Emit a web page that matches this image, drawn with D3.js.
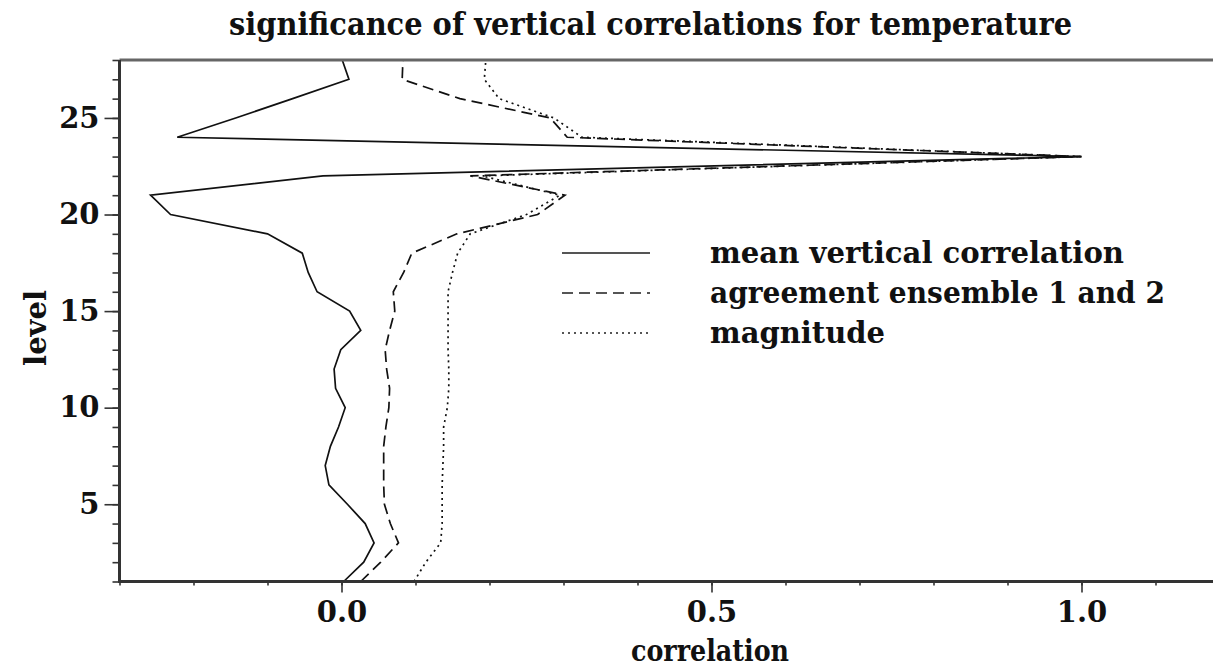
<!DOCTYPE html>
<html>
<head>
<meta charset="utf-8">
<script src="https://cdn.jsdelivr.net/npm/d3@7"></script>
<style>
  html, body { margin: 0; padding: 0; background: #fff; }
  svg { display: block; }
  text { font-family: "DejaVu Serif", "Liberation Serif", serif; font-weight: bold; fill: #111; }
</style>
</head>
<body>
<svg id="chart" width="1213" height="668"></svg>
<script>
// ---- data ----
const levels = [1,2,3,4,5,6,7,8,9,10,11,12,13,14,15,16,17,18,19,20,21,22,23,24,25,26,27,28];
const meanCorr = [0.003,0.030,0.044,0.032,0.008,-0.017,-0.022,-0.015,-0.004,0.005,-0.008,-0.010,-0.001,0.026,0.011,-0.033,-0.045,-0.053,-0.100,-0.231,-0.258,-0.025,1.0,-0.222,-0.143,-0.066,0.010,0.001];
const agreement = [0.026,0.053,0.077,0.066,0.058,0.057,0.057,0.057,0.060,0.064,0.065,0.061,0.059,0.065,0.072,0.070,0.084,0.095,0.156,0.265,0.302,0.174,1.0,0.305,0.282,0.160,0.082,0.083];
const magnitude = [0.098,0.114,0.134,0.136,0.136,0.136,0.137,0.138,0.138,0.143,0.145,0.145,0.144,0.144,0.144,0.144,0.150,0.157,0.174,0.250,0.295,0.190,1.0,0.325,0.287,0.213,0.193,0.195];
const seriesNames = ["mean vertical correlation", "agreement ensemble 1 and 2", "magnitude"];
const xTickLabels = [0.0, 0.5, 1.0];
const yTickLabels = [5, 10, 15, 20, 25];
const titleText = "significance of vertical correlations for temperature";
const xTitle = "correlation";
const yTitle = "level";

// ---- layout ----
const svg = d3.select("#chart");
const x = d3.scaleLinear().domain([-0.3, 1.2]).range([119.5, 1229.5]);
const y = d3.scaleLinear().domain([1, 28]).range([581.5, 60]);

const series = [
  { name: seriesNames[0], values: meanCorr, dash: null, legW: 414 },
  { name: seriesNames[1], values: agreement, dash: "11,6", legW: 455 },
  { name: seriesNames[2], values: magnitude, dash: "2,4", legW: 175 }
];

// title
svg.append("text")
  .attr("x", 650.5).attr("y", 35)
  .attr("text-anchor", "middle")
  .attr("font-size", 32)
  .attr("textLength", 843).attr("lengthAdjust", "spacingAndGlyphs")
  .text(titleText);

// lines
const line = d3.line().x(d => x(d[1])).y(d => y(d[0]));
const g = svg.append("g");
series.forEach(s => {
  g.append("path")
    .datum(levels.map((l, i) => [l, s.values[i]]))
    .attr("d", line)
    .attr("fill", "none")
    .attr("stroke", "#111")
    .attr("stroke-width", 1.7)
    .attr("stroke-dasharray", s.dash)
    .attr("stroke-linejoin", "miter");
});

const labelStyle = a => a.selectAll("text")
  .attr("font-size", 29).attr("font-family", "DejaVu Serif").attr("font-weight", "bold").attr("fill", "#111");

// y axis ticks
const yAxisMinor = d3.axisLeft(y).tickValues(d3.range(1, 29)).tickSize(7).tickFormat("");
svg.append("g").attr("transform", `translate(${x(-0.3)},0)`).call(yAxisMinor)
  .call(a => a.select(".domain").remove())
  .call(a => a.selectAll("line").attr("stroke", "#333").attr("stroke-width", 1.6));
const yAxisMajor = d3.axisLeft(y).tickValues(yTickLabels).tickSize(15).tickPadding(5).tickFormat(d3.format("d"));
svg.append("g").attr("transform", `translate(${x(-0.3)},0)`).call(yAxisMajor)
  .call(a => a.select(".domain").remove())
  .call(a => a.selectAll("line").attr("stroke", "#333").attr("stroke-width", 1.6))
  .call(labelStyle);

// x axis ticks
const xMinorVals = d3.range(-3, 13).map(v => v / 10);
const xAxisMinor = d3.axisBottom(x).tickValues(xMinorVals).tickSize(4).tickFormat("");
svg.append("g").attr("transform", `translate(0,${y(1)})`).call(xAxisMinor)
  .call(a => a.select(".domain").remove())
  .call(a => a.selectAll("line").attr("stroke", "#333").attr("stroke-width", 1.6));
const xAxisMajor = d3.axisBottom(x).tickValues(xTickLabels).tickSize(11).tickPadding(9).tickFormat(d3.format(".1f"));
svg.append("g").attr("transform", `translate(0,${y(1)})`).call(xAxisMajor)
  .call(a => a.select(".domain").remove())
  .call(a => a.selectAll("line").attr("stroke", "#333").attr("stroke-width", 1.6))
  .call(labelStyle);

// frame lines
svg.append("line").attr("x1", x(-0.3)).attr("x2", 1213).attr("y1", y(28)).attr("y2", y(28))
  .attr("stroke", "#666").attr("stroke-width", 3);
svg.append("line").attr("x1", x(-0.3)).attr("x2", 1213).attr("y1", y(1)).attr("y2", y(1))
  .attr("stroke", "#333").attr("stroke-width", 3);
svg.append("line").attr("x1", x(-0.3)).attr("x2", x(-0.3)).attr("y1", y(28)).attr("y2", y(1) + 1.5)
  .attr("stroke", "#333").attr("stroke-width", 3);

// axis titles
svg.append("text").attr("x", 710).attr("y", 661).attr("text-anchor", "middle")
  .attr("font-size", 30).attr("textLength", 158).attr("lengthAdjust", "spacingAndGlyphs").text(xTitle);
svg.append("text").attr("transform", "translate(46,328) rotate(-90)").attr("text-anchor", "middle")
  .attr("font-size", 29).text(yTitle);

// legend
const legY = [253, 293, 333];
series.forEach((s, i) => {
  svg.append("line").attr("x1", 562).attr("x2", 650).attr("y1", legY[i]).attr("y2", legY[i])
    .attr("stroke", "#555").attr("stroke-width", 1.8).attr("stroke-dasharray", s.dash);
  svg.append("text").attr("x", 710).attr("y", legY[i] + 10).attr("font-size", 30)
    .attr("textLength", s.legW).attr("lengthAdjust", "spacingAndGlyphs").text(s.name);
});
</script>
</body>
</html>
